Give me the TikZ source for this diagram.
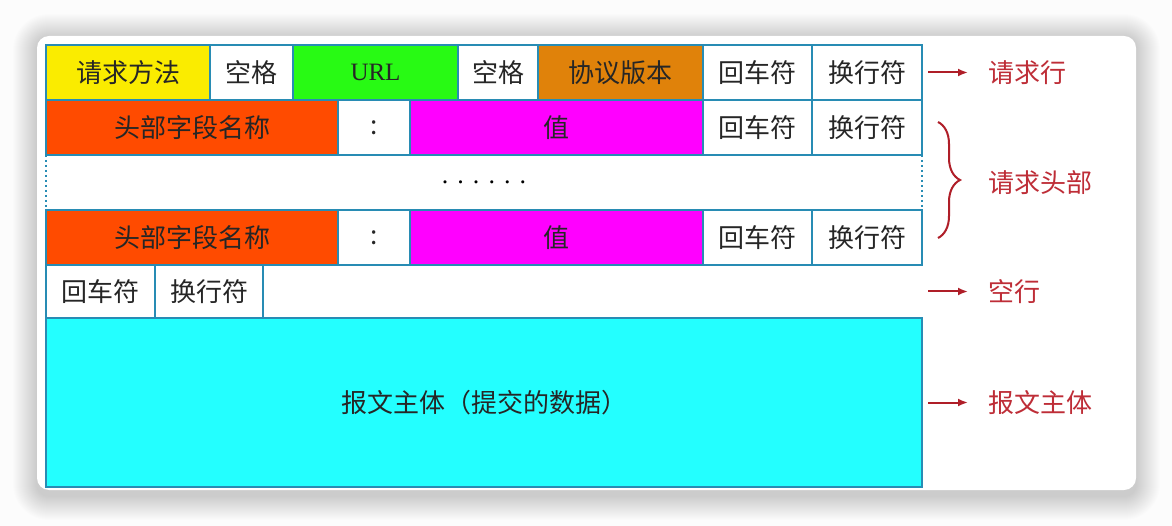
\documentclass[tikz,border=0pt]{standalone}
\usepackage{fontspec}
\setmainfont{Noto Sans CJK SC}
\newfontfamily\urlfont{Liberation Serif}
\newfontfamily\dotfont[LetterSpace=35]{Liberation Serif}
\usetikzlibrary{positioning, decorations.pathreplacing, arrows.meta}
\definecolor{edge}{RGB}{40,140,180}
\definecolor{methodc}{RGB}{250,236,0}
\definecolor{urlc}{RGB}{40,250,20}
\definecolor{verc}{RGB}{224,130,10}
\definecolor{namec}{RGB}{255,75,0}
\definecolor{valuec}{RGB}{255,0,255}
\definecolor{bodyc}{RGB}{35,255,255}
\definecolor{tagred}{RGB}{190,45,55}
\definecolor{arrowred}{RGB}{175,30,40}
\definecolor{bggray}{RGB}{252,252,252}
\tikzset{
    cell/.style={draw=edge, line width=2pt, fill=white, minimum height=55pt, inner sep=0pt, outer sep=0pt, text=black!85, font=\fontsize{26}{30}\selectfont},
    plain/.style={inner sep=0pt, outer sep=0pt, minimum height=55pt},
    tag/.style={text=tagred, inner sep=0pt, font=\fontsize{26}{30}\selectfont},
    tagarrow/.style={draw=arrowred, line width=2pt, -{Latex[length=10pt,width=8pt]}},
    hbrace/.style={draw=arrowred, line width=2pt, decorate, decoration={brace, amplitude=22pt}},
    side/.style={draw=edge, line width=2pt, dash pattern=on 2pt off 3pt}
}

\begin{document}
\begin{tikzpicture}[x=1pt, y=-1pt, node distance=0pt]
  \useasboundingbox (0,0) rectangle (1172,526);
  \fill[bggray] (0,0) rectangle (1172,526);
  % soft shadow of the card
  \foreach \i in {1,...,24}
    \fill[black, opacity=0.008, rounded corners=12pt+\i pt] (37-\i,38-\i) rectangle (1136+\i,496+\i);
  \fill[white, rounded corners=12pt] (37,36) rectangle (1136,490);
  % request line
  \node(method)[cell, fill=methodc, minimum width=164pt, anchor=north west] at (46,45) {请求方法};
  \node(sp1)[cell, minimum width=83pt, right=of method]{空格};
  \node(url)[cell, fill=urlc, minimum width=165pt, right=of sp1, font=\urlfont\fontsize{25}{28}\selectfont]{URL};
  \node(sp2)[cell, minimum width=80pt, right=of url]{空格};
  \node(version)[cell, fill=verc, minimum width=165pt, right=of sp2]{协议版本};
  \node(cr1)[cell, minimum width=109pt, right=of version]{回车符};
  \node(lf1)[cell, minimum width=110pt, right=of cr1]{换行符};
  % header lines
  \node(name2)[cell, fill=namec, minimum width=292pt, below=of method.south west, anchor=north west]{头部字段名称};
  \node(colon2)[cell, minimum width=72pt, right=of name2]{:};
  \node(value2)[cell, fill=valuec, minimum width=293pt, right=of colon2]{值};
  \node(cr2)[cell, minimum width=109pt, right=of value2]{回车符};
  \node(lf2)[cell, minimum width=110pt, right=of cr2]{换行符};
  \node(gap)[plain, minimum width=876pt, below=of name2.south west, anchor=north west]{\dotfont\fontsize{26}{30}\selectfont ......};
  \node(name4)[cell, fill=namec, minimum width=292pt, below=of gap.south west, anchor=north west]{头部字段名称};
  \node(colon4)[cell, minimum width=72pt, right=of name4]{:};
  \node(value4)[cell, fill=valuec, minimum width=293pt, right=of colon4]{值};
  \node(cr4)[cell, minimum width=109pt, right=of value4]{回车符};
  \node(lf4)[cell, minimum width=110pt, right=of cr4]{换行符};
  \draw[side](gap.north west)--(gap.south west);
  \draw[side](gap.north east)--(gap.south east);
  % empty line
  \node(cr5)[cell, minimum width=109pt, minimum height=53pt, below=of name4.south west, anchor=north west]{回车符};
  \node(lf5)[cell, minimum width=108pt, minimum height=53pt, right=of cr5]{换行符};
  \node(blank)[plain, minimum width=659pt, minimum height=53pt, right=of lf5]{};
  % body
  \node(body)[cell, fill=bodyc, minimum width=876pt, minimum height=169pt, below=of cr5.south west, anchor=north west]{报文主体（提交的数据）};
  % labels on the right
  \node(reqline)[tag, right=66pt of lf1]{请求行};
  \node(reqhead)[tag, right=66pt of gap]{请求头部};
  \node(emptyline)[tag, right=66pt of blank]{空行};
  \node(bodytag)[tag, right=66pt of body]{报文主体};
  \draw[tagarrow]([xshift=6pt]lf1.east)--([xshift=-20pt]reqline.west);
  \draw[hbrace]([xshift=16pt, yshift=-22pt]lf2.north east)--([xshift=16pt, yshift=27pt]lf4.south east);
  \draw[tagarrow]([xshift=6pt]blank.east)--([xshift=-20pt]emptyline.west);
  \draw[tagarrow]([xshift=6pt]body.east)--([xshift=-20pt]bodytag.west);
\end{tikzpicture}
\end{document}
